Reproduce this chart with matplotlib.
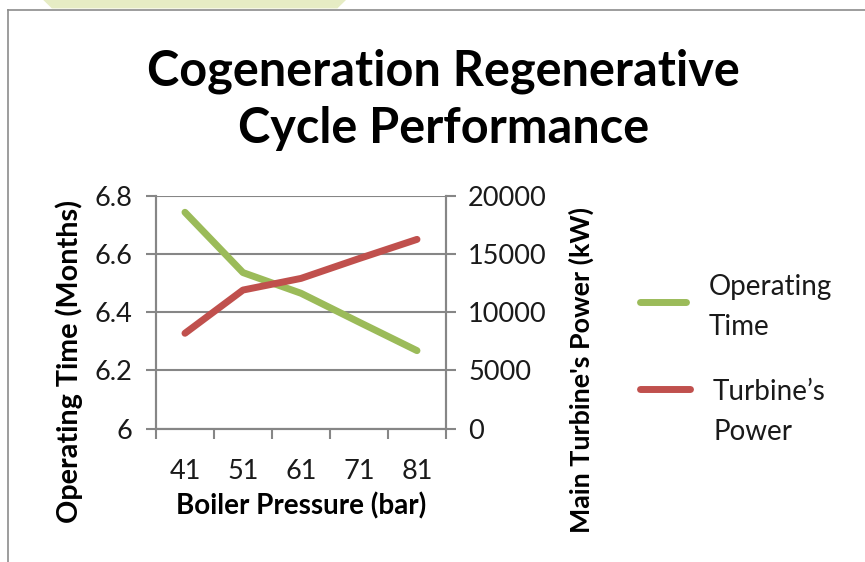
import matplotlib.pyplot as plt
from matplotlib.lines import Line2D
from matplotlib.patches import Polygon

pressure = ['41', '51', '61', '71', '81']
operating_time = [6.743, 6.536, 6.465, 6.366, 6.268]
turbine_power = [8190, 11900, 12900, 14600, 16250]

plt.rcParams['font.family'] = ['Lato', 'DejaVu Sans']

W, H = 865, 562
fig = plt.figure(figsize=(W / 100, H / 100), dpi=100)

# page background bits around the chart
fig.add_artist(Polygon([[0.05, 1.0], [0.40, 1.0], [0.39, 0.985], [0.06, 0.985]],
                       closed=True, transform=fig.transFigure, color='#e6ecc4', lw=0))
fig.add_artist(Line2D([0.009, 1.0], [0.982, 0.982], transform=fig.transFigure, color='#8c8c8c', lw=1.2))
fig.add_artist(Line2D([0.009, 0.009], [0.0, 0.982], transform=fig.transFigure, color='#8c8c8c', lw=1.2))

ax = fig.add_axes([0.1803, 0.2372, 0.3353, 0.4146])
ax2 = ax.twinx()

green = '#9bbb59'
red = '#c0504d'
x = list(range(len(pressure)))
ax.plot(x, operating_time, color=green, lw=5, solid_capstyle='round', zorder=3)
ax2.plot(x, turbine_power, color=red, lw=5, solid_capstyle='round', zorder=3)

grey = '#868686'
txt = '#1a1a1a'
ax.set_xlim(-0.5, 4.5)
ax.set_ylim(6.0, 6.8)
ax.set_yticks([6.0, 6.2, 6.4, 6.6, 6.8])
ax.set_yticklabels(['6', '6.2', '6.4', '6.6', '6.8'])
ax2.set_ylim(0, 20000)
ax2.set_yticks([0, 5000, 10000, 15000, 20000])
ax.yaxis.grid(True, color=grey, lw=1.5)
ax.set_axisbelow(True)

ax.set_xticks([i - 0.5 for i in range(6)])
ax.set_xticklabels([])
ax.set_xticks(x, minor=True)
ax.set_xticklabels(pressure, minor=True)
ax.tick_params(axis='x', which='major', length=7, width=1.5, color=grey)
ax.tick_params(axis='x', which='minor', length=0, labelsize=19.5, pad=22, labelcolor=txt)
ax.tick_params(axis='y', length=7, width=1.5, color=grey, labelsize=19.5, pad=10, labelcolor=txt)
ax2.tick_params(axis='y', length=7, width=1.5, color=grey, labelsize=19.5, pad=9, labelcolor=txt)

for a in (ax, ax2):
    for s in a.spines.values():
        s.set_color(grey)
        s.set_linewidth(1.5)
ax.spines['top'].set_visible(False)
ax2.spines['top'].set_visible(False)

ax.set_xlabel('Boiler Pressure (bar)', fontsize=20, fontweight='bold', labelpad=6)
fig.text(69 / W, 1 - 361 / H, 'Operating Time (Months)', rotation=90, ha='center', va='center',
         fontsize=20.7, fontweight='bold')
fig.text(581 / W, 1 - 370 / H, "Main Turbine's Power (kW)", rotation=90, ha='center', va='center',
         fontsize=19.4, fontweight='bold')

fig.text(0.513, 0.822, 'Cogeneration Regenerative\nCycle Performance', ha='center', va='center',
         fontsize=35, fontweight='bold', linespacing=1.32)

# legend, placed as in the original
fig.add_artist(Line2D([640 / W, 686 / W], [1 - 302 / H] * 2, transform=fig.transFigure,
                      color=green, lw=5, solid_capstyle='round'))
fig.add_artist(Line2D([640 / W, 690 / W], [1 - 389 / H] * 2, transform=fig.transFigure,
                      color=red, lw=5, solid_capstyle='round'))
fig.text(709 / W, 1 - 307 / H, 'Operating\nTime', ha='left', va='center', fontsize=20,
         linespacing=1.68, color=txt)
fig.text(713 / W, 1 - 412 / H, 'Turbine\u2019s\nPower', ha='left', va='center', fontsize=20,
         linespacing=1.68, color=txt)

fig.savefig('out.png', dpi=100)
